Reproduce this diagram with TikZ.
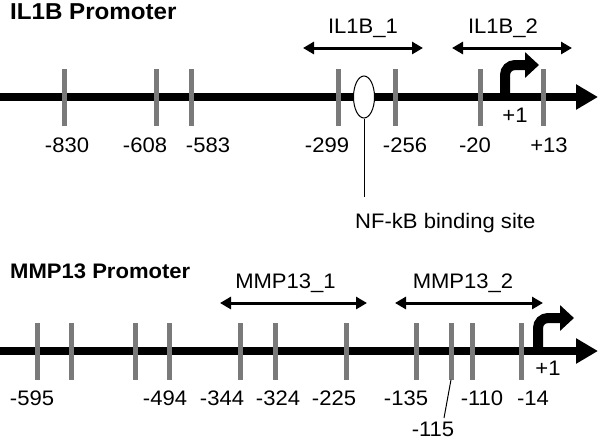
\documentclass[tikz,border=0pt]{standalone}
\usepackage{fontspec}
\setmainfont[FakeStretch=1.05]{Liberation Sans}
\usetikzlibrary{arrows.meta,shapes.geometric}

\begin{document}
\begin{tikzpicture}[x=1pt,y=-1pt,
  every node/.style={font=\fontsize{21}{25}\selectfont, inner sep=0pt},
  promoter/.style={font=\fontsize{21}{25}\selectfont\bfseries, anchor=base west},
  bplabel/.style={anchor=base},
  amplabel/.style={anchor=base, yshift=15pt},
  strand/.style={line width=8pt, -{Triangle[length=22pt,width=24pt]}},
  site/.style={fill=black!52, minimum width=5pt, minimum height=57pt},
  amplicon/.style={line width=3pt, {Triangle[length=11pt,width=12pt]}-{Triangle[length=11pt,width=12pt]}},
  tss/.style={line width=10pt, rounded corners=10pt, -{Triangle[length=14pt,width=25pt]}}]
  \useasboundingbox (0,0) rectangle (600,440);

  \node [promoter, font=\fontsize{23}{27}\selectfont\bfseries] (iltitle) at (10,19) {IL1B Promoter};
  \coordinate [] (ilstart) at (0,97);
  \coordinate [] (ilend) at (598,97);
  \draw [strand] (ilstart) -- (ilend);
  \foreach \x in {64,156,191,338,395,480,543}
    \node [site] (ils\x) at (\x,97) {};
  \foreach \x/\t in {67/-830,145/-608,208/-583,327/-299,405/-256,475/-20,549/+13}
    \node [bplabel] (ilp\x) at (\x,152) {\t};
  \node [ellipse, draw, line width=1pt, fill=white, minimum width=21pt, minimum height=42pt] (nfkb) at (364,97) {};
  \coordinate [] (nfend) at (364,197);
  \draw [line width=1pt] (nfkb.south) -- (nfend);
  \node [anchor=base west] (nfkbtext) at (355,228) {NF-kB binding site};
  \coordinate [] (ila1) at (303,48);
  \coordinate [] (ilb1) at (423,48);
  \coordinate [] (ila2) at (452,48);
  \coordinate [] (ilb2) at (572,48);
  \draw [amplicon] (ila1) -- node[amplabel] (il1name) {IL1B\_1} (ilb1);
  \draw [amplicon] (ila2) -- node[amplabel, xshift=-9pt] (il2name) {IL1B\_2} (ilb2);
  \coordinate [] (iltss) at (505,97);
  \coordinate [] (iltip) at (539,65);
  \draw [tss] (iltss) |- (iltip);
  \node [bplabel] (ilplus) at (515,122) {+1};

  \node [promoter] (mmtitle) at (10,278) {MMP13 Promoter};
  \coordinate [] (mmstart) at (0,351);
  \coordinate [] (mmend) at (598,351);
  \draw [strand] (mmstart) -- (mmend);
  \foreach \x in {37,71,135,169,240,275,346,416,451,472,521}
    \node [site] (mms\x) at (\x,351) {};
  \foreach \x/\t in {32/-595,165/-494,222/-344,278/-324,334/-225,406/-135,482/-110,533/-14}
    \node [bplabel] (mmp\x) at (\x,405) {\t};
  \node [bplabel] (mmp115) at (433,436) {-115};
  \coordinate [] (mm115top) at (444,418);
  \draw [line width=1pt] (mms451.south) -- (mm115top);
  \coordinate [] (mma1) at (220,303);
  \coordinate [] (mmb1) at (367,303);
  \coordinate [] (mma2) at (395,303);
  \coordinate [] (mmb2) at (543,303);
  \draw [amplicon] (mma1) -- node[amplabel, xshift=-8pt] (mm1name) {MMP13\_1} (mmb1);
  \draw [amplicon] (mma2) -- node[amplabel, xshift=-6pt] (mm2name) {MMP13\_2} (mmb2);
  \coordinate [] (mmtss) at (538,351);
  \coordinate [] (mmtip) at (574,318);
  \draw [tss] (mmtss) |- (mmtip);
  \node [bplabel] (mmplus) at (548,375) {+1};
\end{tikzpicture}
\end{document}
